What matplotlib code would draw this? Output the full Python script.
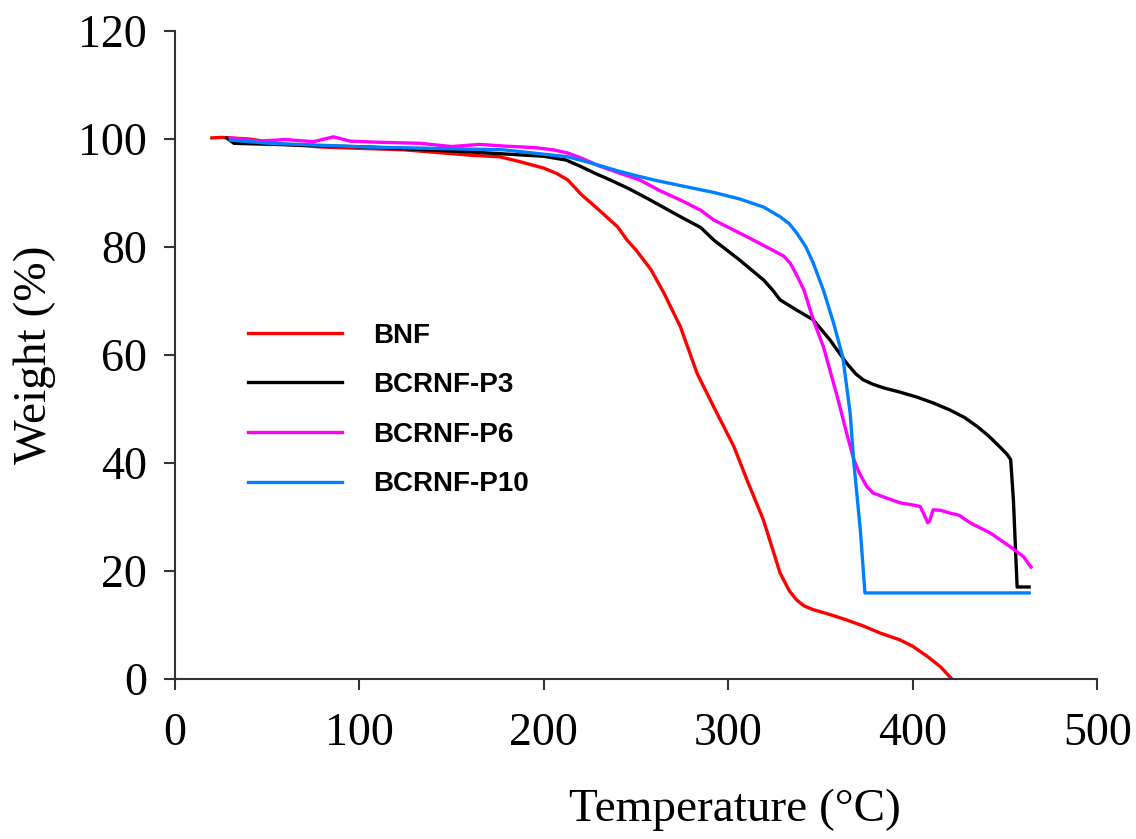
import matplotlib
matplotlib.use("Agg")
import matplotlib.pyplot as plt

# TGA curves, values
bnf_t = [20, 25, 40, 60, 80, 124, 160, 176, 187, 200, 207, 213, 220, 230, 240, 245, 250, 258,
         265, 274, 283, 292, 303, 310, 319, 328, 333, 337, 341, 346, 355, 364, 373, 382, 393,
         400, 408, 415, 421]
bnf_w = [100.2, 100.3, 100, 99.0, 98.5, 98, 97, 96.7, 95.8, 94.6, 93.6, 92.4, 89.8, 86.8,
         83.7, 81.3, 79.4, 75.8, 71.5, 65.2, 56.6, 50.4, 43, 36.9, 29.4, 19.6, 16.3, 14.6, 13.5,
         12.8, 11.9, 10.9, 9.8, 8.5, 7.2, 6.0, 4.1, 2.2, 0]

p3_t = [28, 32, 53, 106, 160, 200, 212, 220, 228, 236, 246, 256, 265, 274, 285, 292, 306,
        319, 324, 328, 337, 346, 355, 364, 369, 373, 378, 384, 393, 402, 411, 420, 428, 435,
        441, 447, 451, 453, 454.5, 456.5, 463]
p3_w = [100.2, 99.2, 99, 98.5, 97.6, 96.8, 96.1, 94.9, 93.6, 92.4, 90.8, 89, 87.3, 85.6, 83.6,
        81.3, 77.6, 73.9, 72.0, 70.2, 68.3, 66.5, 62.8, 58.5, 56.5, 55.4, 54.6, 53.9, 53.1,
        52.2, 51.1, 49.8, 48.4, 46.7, 45.0, 43, 41.6, 40.6, 33, 17, 17]

p6_t = [30, 45, 60, 75, 86, 95, 110, 133, 150, 165, 178, 195, 205, 213, 220, 230, 240, 252,
        263, 274, 285, 292, 310, 324, 330, 333.5, 337, 341, 346, 351.5, 359, 364, 368, 371,
        375, 378.5, 384, 393, 400, 404, 406, 408, 409, 411, 415, 420, 425, 431, 442, 453, 460,
        464]
p6_w = [100.2, 99.6, 99.9, 99.5, 100.4, 99.6, 99.4, 99.2, 98.6, 99.0, 98.7, 98.4, 98.0, 97.4,
        96.5, 95.0, 93.8, 92.4, 90.4, 88.7, 86.8, 85, 81.9, 79.4, 78.3, 77, 74.8, 72, 66.5,
        61.5, 52.3, 45.6, 40.6, 38.1, 35.6, 34.4, 33.7, 32.6, 32.2, 31.9, 30.5, 28.9, 29.2,
        31.3, 31.2, 30.7, 30.3, 28.9, 27, 24.4, 22.6, 20.7]

p10_t = [30, 51, 106, 178, 213, 225, 240, 250, 261, 275, 292, 306, 319, 328, 333, 337, 342,
         346, 351.5, 357, 362, 366, 368, 371.5, 374, 463]
p10_w = [99.8, 99.2, 98.5, 98, 96.7, 95.6, 94.1, 93.2, 92.3, 91.3, 90.1, 88.9, 87.4, 85.6,
         84.3, 82.6, 80.0, 77, 72, 65.9, 59.6, 49.2, 40, 27.6, 15.9, 15.9]

labels = ["BNF", "BCRNF-P3", "BCRNF-P6", "BCRNF-P10"]
colors = ["#FF0000", "#000000", "#FF00FF", "#0080FF"]
x_ticks = [0, 100, 200, 300, 400, 500]
y_ticks = [0, 20, 40, 60, 80, 100, 120]

fig = plt.figure(figsize=(11.36, 8.39), dpi=100)
ax = fig.add_axes([0.154, 0.191, 0.812, 0.772])

series = [(bnf_t, bnf_w), (p3_t, p3_w), (p6_t, p6_w), (p10_t, p10_w)]
for (t, w), lab, c in zip(series, labels, colors):
    ax.plot(t, w, color=c, lw=2.4, label=lab)

ax.set_xlim(0, 500)
ax.set_ylim(0, 120)
ax.set_xticks(x_ticks)
ax.set_yticks(y_ticks)
ax.spines["top"].set_visible(False)
ax.spines["right"].set_visible(False)
for s in ("left", "bottom"):
    ax.spines[s].set_linewidth(1.5)
    ax.spines[s].set_color("#333333")
ax.tick_params(direction="out", length=8, width=1.5, color="#333333")
ax.tick_params(axis="x", pad=16)
ax.tick_params(axis="y", pad=12)

serif = "Liberation Serif"
for lbl in ax.get_xticklabels() + ax.get_yticklabels():
    lbl.set_fontfamily(serif)
    lbl.set_fontsize(33)
ax.set_xlabel("Temperature (°C)", fontfamily=serif, fontsize=34)
ax.xaxis.set_label_coords(0.607, -0.17)
ax.set_ylabel("Weight (%)", fontfamily=serif, fontsize=34, labelpad=16)

ax.legend(loc="center left", bbox_to_anchor=(0.079, 0.415), frameon=False,
          prop={"family": "Liberation Sans", "weight": "bold", "size": 20},
          handlelength=3.4, handletextpad=1.1, labelspacing=0.85,
          borderpad=0, borderaxespad=0)

fig.savefig("out.png", dpi=100)
